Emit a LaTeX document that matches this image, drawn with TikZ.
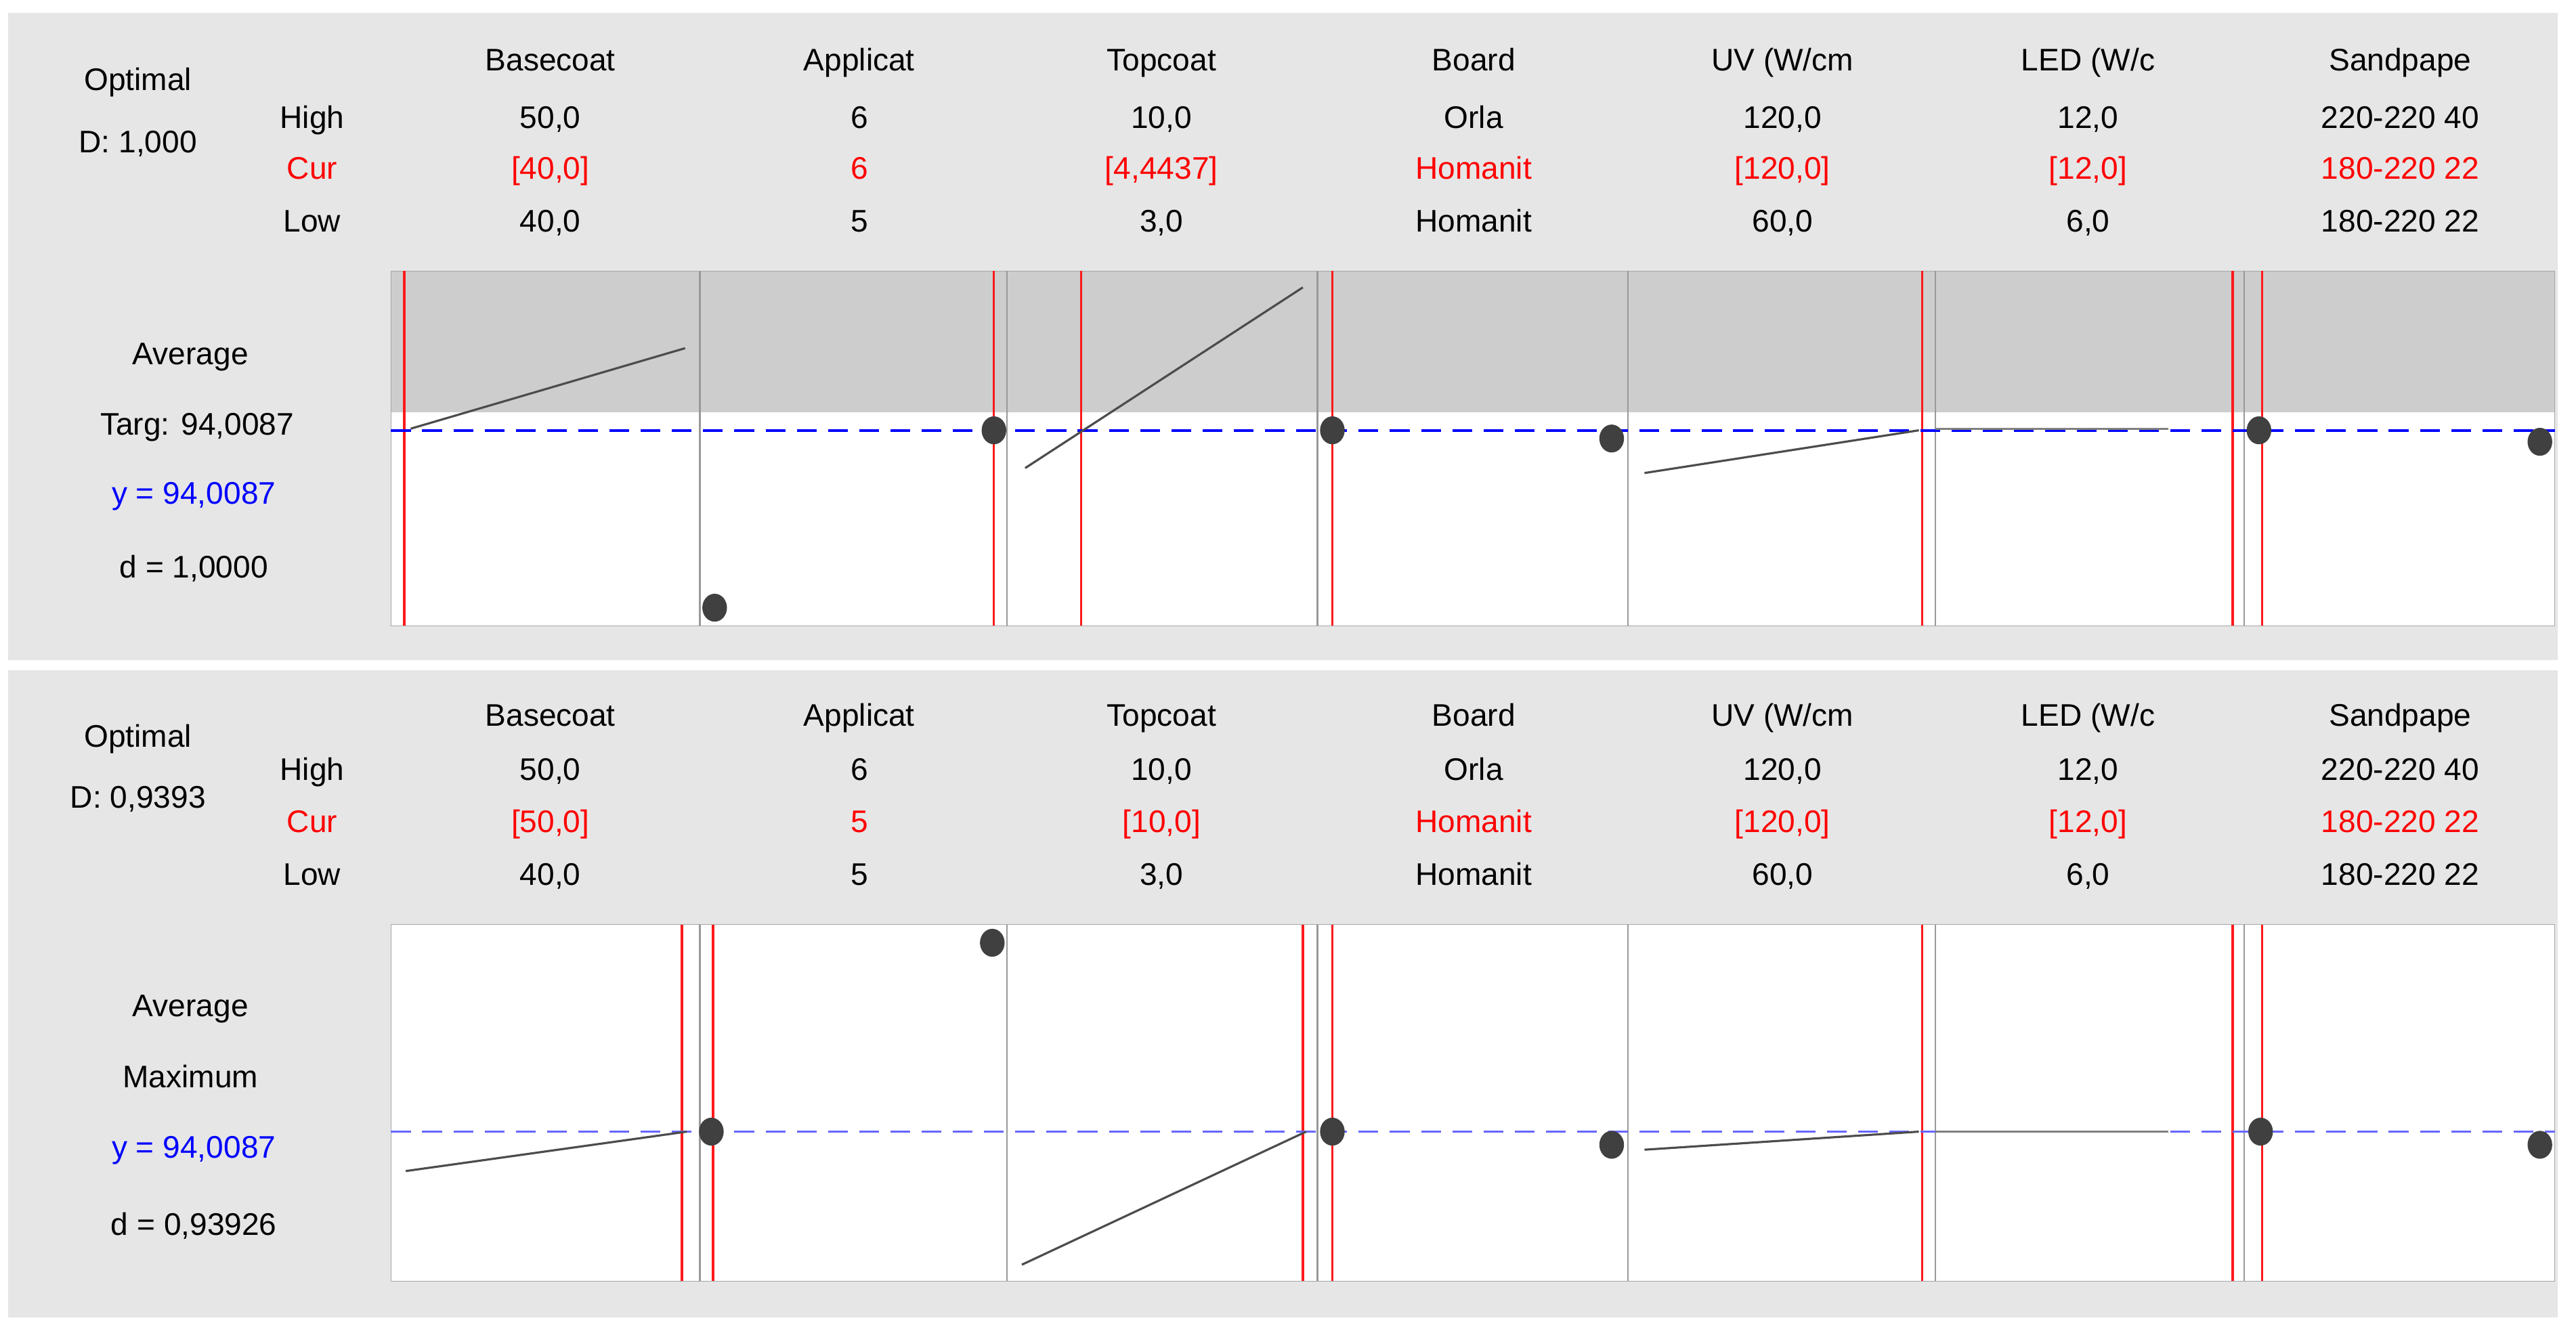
\documentclass[tikz,border=0pt]{standalone}
\usepackage{fontspec}
\setmainfont{Liberation Sans}
\usetikzlibrary{shapes.geometric}
\definecolor{panel}{HTML}{E6E6E6}
\definecolor{shadecol}{HTML}{CDCDCD}
\definecolor{dotc}{HTML}{404040}
\definecolor{rl}{HTML}{FF1A1A}
\begin{document}
\begin{tikzpicture}[x=1pt,y=-1pt,
  lab/.style={font=\fontsize{19}{22}\selectfont, inner sep=0pt, anchor=base},
  cur/.style={lab, text=red},
  redl/.style={draw=rl, line width=1.4pt},
  grayl/.style={draw=gray!80, line width=1pt},
  curve/.style={draw=gray!60!black, line width=1.3pt},
  tgt/.style={draw=blue, dash pattern=on 12pt off 7pt, line width=1.6pt},
  dotn/.style={ellipse, fill=dotc, minimum width=15pt, minimum height=17pt, inner sep=0pt}]
\useasboundingbox (0,0) rectangle (1568,810);
\fill[white] (0,0) rectangle (1568,810);
% panels
\fill[panel] (5,8) rectangle (1557,402);
\fill[panel] (5,408) rectangle (1557,802);
% ---------- top panel ----------
\fill[white] (238,165) rectangle (1555,381);
\fill[shadecol] (238,165) rectangle (1555,251);
\draw[gray!70] (238,165) rectangle (1555,381);
\foreach \x in {426,613,802,991,1178,1366} \draw[grayl] (\x,165) -- (\x,381);
\foreach \x in {246,605,658,811,1170,1359,1377} \draw[redl] (\x,165) -- (\x,381);
\draw[tgt] (238,262) -- (1555,262);
\draw[curve] (250,261) -- (417,212);
\draw[curve] (624,285) -- (793,175);
\draw[curve] (1001,288) -- (1168,262);
\draw[draw=gray, line width=1.3pt] (1178,261) -- (1320,261);
\node[dotn] (t1) at (435,370) {};
\node[dotn] (t2) at (605,262) {};
\node[dotn] (t3) at (811,262) {};
\node[dotn] (t4) at (981,267) {};
\node[dotn] (t5) at (1375,262) {};
\node[dotn] (t6) at (1546,269) {};
% header
\node[lab] (o1) at (84,55) {Optimal};
\node[lab] (d1) at (84,93) {D: 1,000};
\node[lab] (h1) at (190,78) {High};
\node[cur] (c1) at (190,109) {Cur};
\node[lab] (l1) at (190,141) {Low};
\foreach \cx/\nm/\hi/\cu/\lo in {335/Basecoat/{50,0}/{[40,0]}/{40,0}, 523/Applicat/6/6/5, 707/Topcoat/{10,0}/{[4,4437]}/{3,0}, 897/Board/Orla/Homanit/Homanit, 1085/{UV (W/cm}/{120,0}/{[120,0]}/{60,0}, 1271/{LED (W/c}/{12,0}/{[12,0]}/{6,0}, 1461/Sandpape/220-220 40/180-220 22/180-220 22}{
  \node[lab] at (\cx,43) {\nm};
  \node[lab] at (\cx,78) {\hi};
  \node[cur] at (\cx,109) {\cu};
  \node[lab] at (\cx,141) {\lo};
}
\node[lab] (a1) at (116,222) {Average};
\node[lab] (g1) at (120,265) {Targ: 94,0087};
\node[lab, text=blue] (y1) at (118,307) {y = 94,0087};
\node[lab] (dd1) at (118,352) {d = 1,0000};
% ---------- bottom panel ----------
\fill[white] (238,563) rectangle (1555,780);
\draw[gray!70] (238,563) rectangle (1555,780);
\foreach \x in {426,613,802,991,1178,1366} \draw[grayl] (\x,563) -- (\x,780);
\foreach \x in {415,434,793,811,1170,1359,1377} \draw[redl] (\x,563) -- (\x,780);
\draw[tgt, draw=blue!60] (238,689) -- (1555,689);
\draw[curve] (247,713) -- (418,689);
\draw[curve] (622,770) -- (795,689);
\draw[curve] (1001,700) -- (1168,689);
\draw[draw=gray, line width=1.3pt] (1178,689) -- (1320,689);
\node[dotn] (b1) at (433,689) {};
\node[dotn] (b2) at (604,574) {};
\node[dotn] (b3) at (811,689) {};
\node[dotn] (b4) at (981,697) {};
\node[dotn] (b5) at (1376,689) {};
\node[dotn] (b6) at (1546,697) {};
\node[lab] (o2) at (84,455) {Optimal};
\node[lab] (d2) at (84,492) {D: 0,9393};
\node[lab] (h2) at (190,475) {High};
\node[cur] (c2) at (190,507) {Cur};
\node[lab] (l2) at (190,539) {Low};
\foreach \cx/\nm/\hi/\cu/\lo in {335/Basecoat/{50,0}/{[50,0]}/{40,0}, 523/Applicat/6/5/5, 707/Topcoat/{10,0}/{[10,0]}/{3,0}, 897/Board/Orla/Homanit/Homanit, 1085/{UV (W/cm}/{120,0}/{[120,0]}/{60,0}, 1271/{LED (W/c}/{12,0}/{[12,0]}/{6,0}, 1461/Sandpape/220-220 40/180-220 22/180-220 22}{
  \node[lab] at (\cx,442) {\nm};
  \node[lab] at (\cx,475) {\hi};
  \node[cur] at (\cx,507) {\cu};
  \node[lab] at (\cx,539) {\lo};
}
\node[lab] (a2) at (116,619) {Average};
\node[lab] (m2) at (116,662) {Maximum};
\node[lab, text=blue] (y2) at (118,705) {y = 94,0087};
\node[lab] (dd2) at (118,752) {d = 0,93926};
\end{tikzpicture}
\end{document}
